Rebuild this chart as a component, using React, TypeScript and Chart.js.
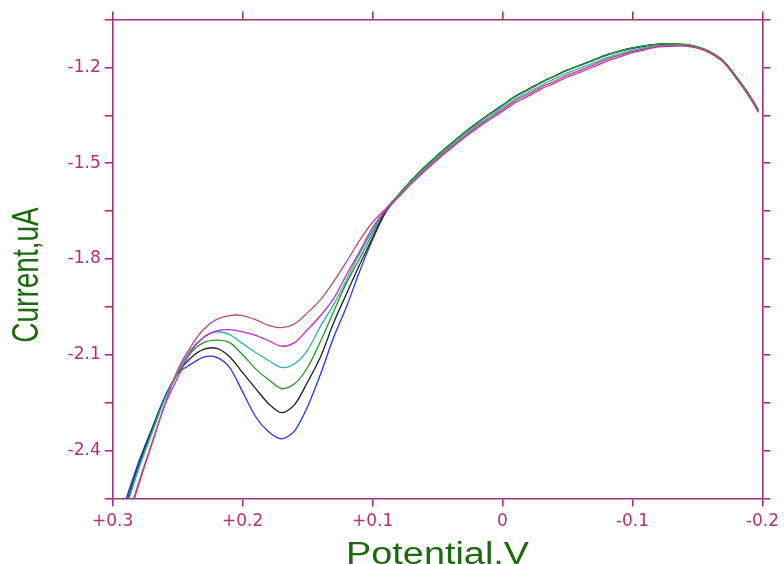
import React, { useEffect, useRef } from "react";
import { Chart, registerables } from "chart.js";

Chart.register(...registerables);

const potential = [0.29,0.28,0.27,0.26,0.25,0.24,0.23,0.22,0.21,0.20,0.19,0.18,0.17,0.16,0.15,0.14,0.13,0.12,0.11,0.10,0.09,0.08,0.07,0.06,0.05,0.04,0.03,0.02,0.01,0,-0.01,-0.02,-0.03,-0.04,-0.05,-0.06,-0.07,-0.08,-0.09,-0.10,-0.11,-0.12,-0.13,-0.14,-0.15,-0.16,-0.17,-0.18,-0.19,-0.197];

const maroonCurrent = [-2.63,-2.50,-2.378,-2.257,-2.147,-2.075,-2.020,-1.989,-1.977,-1.977,-1.990,-2.008,-2.015,-2.003,-1.968,-1.927,-1.871,-1.808,-1.742,-1.685,-1.643,-1.604,-1.561,-1.521,-1.485,-1.451,-1.418,-1.387,-1.359,-1.332,-1.304,-1.283,-1.261,-1.243,-1.224,-1.209,-1.192,-1.175,-1.162,-1.150,-1.141,-1.134,-1.132,-1.132,-1.139,-1.155,-1.183,-1.234,-1.291,-1.339];
const magentaCurrent = [-2.64,-2.507,-2.382,-2.259,-2.172,-2.090,-2.045,-2.025,-2.021,-2.028,-2.039,-2.056,-2.073,-2.062,-2.021,-1.977,-1.924,-1.849,-1.777,-1.702,-1.648,-1.606,-1.564,-1.525,-1.489,-1.455,-1.422,-1.392,-1.364,-1.337,-1.310,-1.289,-1.267,-1.249,-1.230,-1.215,-1.198,-1.181,-1.167,-1.154,-1.144,-1.136,-1.134,-1.133,-1.140,-1.156,-1.184,-1.235,-1.293,-1.341];
const cyanCurrent = [-2.585,-2.458,-2.348,-2.240,-2.153,-2.085,-2.045,-2.028,-2.037,-2.065,-2.093,-2.118,-2.140,-2.128,-2.085,-2.010,-1.943,-1.865,-1.783,-1.711,-1.645,-1.601,-1.558,-1.518,-1.481,-1.447,-1.413,-1.382,-1.354,-1.326,-1.299,-1.277,-1.255,-1.236,-1.217,-1.202,-1.186,-1.170,-1.157,-1.146,-1.137,-1.131,-1.130,-1.130,-1.138,-1.154,-1.182,-1.233,-1.290,-1.337];
const greenCurrent = [-2.58,-2.452,-2.343,-2.238,-2.158,-2.095,-2.062,-2.054,-2.062,-2.100,-2.144,-2.178,-2.206,-2.191,-2.139,-2.057,-1.965,-1.874,-1.799,-1.720,-1.645,-1.598,-1.553,-1.512,-1.475,-1.440,-1.406,-1.375,-1.346,-1.318,-1.290,-1.268,-1.246,-1.227,-1.208,-1.193,-1.177,-1.161,-1.149,-1.139,-1.132,-1.127,-1.126,-1.128,-1.136,-1.152,-1.180,-1.230,-1.287,-1.334];
const blackCurrent = [-2.57,-2.445,-2.338,-2.236,-2.159,-2.110,-2.083,-2.080,-2.106,-2.156,-2.206,-2.253,-2.281,-2.256,-2.185,-2.106,-2.000,-1.908,-1.818,-1.733,-1.650,-1.599,-1.553,-1.512,-1.475,-1.440,-1.406,-1.375,-1.346,-1.318,-1.290,-1.268,-1.246,-1.227,-1.208,-1.193,-1.177,-1.161,-1.149,-1.139,-1.132,-1.127,-1.127,-1.128,-1.136,-1.152,-1.180,-1.230,-1.287,-1.334];
const blueCurrent = [-2.555,-2.435,-2.332,-2.232,-2.159,-2.130,-2.107,-2.108,-2.140,-2.216,-2.294,-2.341,-2.363,-2.338,-2.262,-2.160,-2.046,-1.949,-1.839,-1.739,-1.655,-1.602,-1.555,-1.514,-1.476,-1.441,-1.407,-1.376,-1.347,-1.319,-1.291,-1.269,-1.247,-1.227,-1.209,-1.193,-1.177,-1.162,-1.150,-1.140,-1.133,-1.128,-1.127,-1.129,-1.137,-1.153,-1.181,-1.231,-1.288,-1.335];

const seriesList = [
  { name: "maroon", values: maroonCurrent, color: "#b8506a" },
  { name: "magenta", values: magentaCurrent, color: "#c828c8" },
  { name: "cyan", values: cyanCurrent, color: "#28b4b4" },
  { name: "green", values: greenCurrent, color: "#229a22" },
  { name: "black", values: blackCurrent, color: "#202020" },
  { name: "blue", values: blueCurrent, color: "#2233ff" },
];

const xMin = -0.2;
const xMax = 0.3;
const xStep = 0.1;
const yMin = -2.55;
const yMax = -1.05;
const yStep = 0.15;
const yLabelStep = 0.3;
const xTitle = "Potential,V";
const yTitle = "Current,uA";

const AXIS = "#a3327d";
const LABEL = "#b5326f";
const TITLE = "#1b6b0e";

function xLabel(v: number): string {
  if (Math.abs(v) < 1e-9) return "0";
  return v > 0 ? "+" + v.toFixed(1) : v.toFixed(1);
}

function yLabel(v: number): string {
  const k = Math.round(v / yLabelStep);
  if (Math.abs(k * yLabelStep - v) < 1e-6) return v.toFixed(1);
  return "";
}

const titlePlugin = {
  id: "stretchedTitles",
  afterDraw(chart: any) {
    const ctx = chart.ctx;
    const area = chart.chartArea;
    ctx.save();
    ctx.fillStyle = TITLE;
    ctx.font = "31px 'Liberation Sans', Arial, sans-serif";
    ctx.textAlign = "center";
    ctx.textBaseline = "alphabetic";
    ctx.save();
    ctx.translate((area.left + area.right) / 2, 564);
    ctx.scale(1.22, 1);
    ctx.fillText(xTitle, 0, 0);
    ctx.restore();
    ctx.font = "28px 'Liberation Sans', Arial, sans-serif";
    ctx.textBaseline = "middle";
    ctx.save();
    ctx.translate(28, 275);
    ctx.scale(1.3, 1);
    ctx.rotate(-Math.PI / 2);
    ctx.fillText(yTitle, 0, 0);
    ctx.restore();
    ctx.restore();
  },
};

export default function App() {
  const ref = useRef<HTMLCanvasElement | null>(null);
  useEffect(() => {
    if (!ref.current) return;
    const gridOpts = {
      drawOnChartArea: false,
      color: AXIS,
      lineWidth: 1.6,
      tickLength: 8,
    };
    const borderOpts = { color: AXIS, width: 1.6 };
    const tickFont = { family: "'DejaVu Sans'", size: 17 };
    const chart = new Chart(ref.current, {
      type: "line",
      data: {
        datasets: seriesList.map((s) => ({
          label: s.name,
          data: potential.map((x, i) => ({ x, y: s.values[i] })),
          borderColor: s.color,
          backgroundColor: s.color,
          borderWidth: 1.3,
          pointRadius: 0,
          tension: 0.3,
          fill: false,
        })),
      },
      options: {
        animation: false,
        responsive: true,
        maintainAspectRatio: false,
        layout: { padding: { left: 0, right: 0, top: 0, bottom: 0 } },
        plugins: { legend: { display: false }, tooltip: { enabled: false } },
        scales: {
          x: {
            type: "linear",
            position: "bottom",
            reverse: true,
            min: xMin,
            max: xMax,
            grid: gridOpts,
            border: borderOpts,
            ticks: {
              stepSize: xStep,
              autoSkip: false,
              maxRotation: 0,
              padding: 5,
              color: LABEL,
              font: tickFont,
              callback: (v: any) => xLabel(Number(v)),
            },
            afterFit: (s: any) => {
              s.height = 65.5;
            },
          },
          x2: {
            type: "linear",
            position: "top",
            reverse: true,
            min: xMin,
            max: xMax,
            grid: gridOpts,
            border: borderOpts,
            ticks: { stepSize: xStep, display: false, autoSkip: false },
            afterFit: (s: any) => {
              s.height = 19.5;
            },
          },
          y: {
            type: "linear",
            position: "left",
            min: yMin,
            max: yMax,
            grid: gridOpts,
            border: borderOpts,
            ticks: {
              stepSize: yStep,
              autoSkip: false,
              padding: 4,
              color: LABEL,
              font: tickFont,
              callback: (v: any) => yLabel(Number(v)),
            },
            afterFit: (s: any) => {
              s.width = 112.7;
            },
          },
          y2: {
            type: "linear",
            position: "right",
            min: yMin,
            max: yMax,
            grid: gridOpts,
            border: borderOpts,
            ticks: { stepSize: yStep, display: false, autoSkip: false },
            afterFit: (s: any) => {
              s.width = 20;
            },
          },
        },
      },
      plugins: [titlePlugin],
    } as any);
    return () => chart.destroy();
  }, []);
  return (
    <div style={{ position: "absolute", left: 0, top: 0, width: 784, height: 564, background: "#fff" }}>
      <canvas ref={ref} />
    </div>
  );
}
